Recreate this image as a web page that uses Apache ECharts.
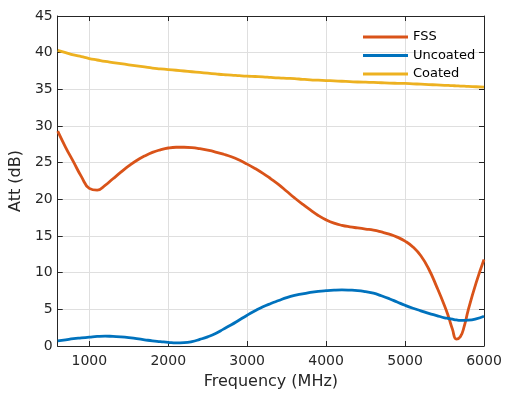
<!DOCTYPE html>
<html>
<head>
<meta charset="utf-8">
<script src="https://cdn.jsdelivr.net/npm/echarts@6/dist/echarts.min.js"></script>
<style>
  html, body { margin: 0; padding: 0; background: #fff; }
  #chart { width: 507px; height: 395px; }
</style>
</head>
<body>
<div id="chart"></div>
<script>
// frequency samples (MHz)
const freq = [
  600, 700, 800, 900, 1000, 1100, 1200, 1300, 1400, 1500,
  1600, 1700, 1800, 1900, 2000, 2100, 2200, 2300, 2400, 2500,
  2600, 2700, 2800, 2900, 3000, 3100, 3200, 3300, 3400, 3500,
  3600, 3700, 3800, 3900, 4000, 4100, 4200, 4300, 4400, 4500,
  4600, 4700, 4800, 4900, 5000, 5100, 5200, 5300, 5400, 5500,
  5550, 5600, 5650, 5700, 5750, 5800, 5900, 6000]

const fss = [
  29.3, 27.1, 25.1, 23.1, 21.5, 21.25, 21.9, 22.8, 23.7, 24.55,
  25.3, 25.9, 26.4, 26.75, 27.0, 27.1, 27.1, 27.05, 26.9, 26.7,
  26.45, 26.15, 25.8, 25.35, 24.8, 24.2, 23.55, 22.8, 22.0, 21.1,
  20.2, 19.35, 18.55, 17.8, 17.2, 16.75, 16.45, 16.25, 16.1, 15.95,
  15.8, 15.55, 15.25, 14.85, 14.3, 13.5, 12.3, 10.5, 8.1, 5.5,
  4.0, 2.3, 0.95, 1.25, 2.7, 4.9, 8.6, 11.8]

const uncoated = [
  0.7, 0.85, 1.0, 1.1, 1.2, 1.3, 1.35, 1.3, 1.25, 1.15,
  1.0, 0.85, 0.7, 0.6, 0.5, 0.42, 0.45, 0.6, 0.9, 1.25,
  1.7, 2.3, 2.9, 3.55, 4.2, 4.8, 5.35, 5.8, 6.2, 6.6,
  6.9, 7.1, 7.3, 7.45, 7.55, 7.62, 7.65, 7.62, 7.55, 7.4,
  7.2, 6.85, 6.45, 6.0, 5.55, 5.15, 4.8, 4.45, 4.15, 3.85,
  3.75, 3.65, 3.55, 3.5, 3.5, 3.52, 3.7, 4.05]

const coated = [
  40.3, 40.0, 39.7, 39.45, 39.2, 39.0, 38.8, 38.65, 38.5, 38.35,
  38.2, 38.05, 37.9, 37.8, 37.7, 37.6, 37.5, 37.4, 37.3, 37.2,
  37.1, 37.0, 36.95, 36.87, 36.8, 36.75, 36.7, 36.62, 36.55, 36.5,
  36.45, 36.37, 36.3, 36.25, 36.2, 36.15, 36.1, 36.05, 36.0, 35.97,
  35.95, 35.9, 35.85, 35.82, 35.8, 35.75, 35.7, 35.65, 35.6, 35.55,
  35.53, 35.5, 35.48, 35.45, 35.43, 35.4, 35.35, 35.3]

const xTicks = [1000, 2000, 3000, 4000, 5000, 6000]

const axisColor = '#262626'
const gridColor = '#dfdfdf'
const font = 'DejaVu Sans'

const pairs = (ys) => freq.map((f, i) => [f, ys[i]])

const chart = echarts.init(document.getElementById('chart'))

const lineSeries = (name, color, ys) => ({
  name: name,
  type: 'line',
  data: pairs(ys),
  smooth: 0.5,
  showSymbol: false,
  symbol: 'none',
  lineStyle: { color: color, width: 2.8 },
  itemStyle: { color: color }
})

chart.setOption({
  animation: false,
  textStyle: { fontFamily: font },
  grid: { left: 57, right: 23, top: 16, bottom: 48 },
  legend: {
    orient: 'vertical',
    left: 358,
    top: 25,
    icon: 'rect',
    itemWidth: 45,
    itemHeight: 3,
    itemGap: 4.5,
    textStyle: { fontSize: 13, color: '#000', fontFamily: font, lineHeight: 14 },
    data: ['FSS', 'Uncoated', 'Coated']
  },
  xAxis: [
    {
      type: 'value',
      min: 600,
      max: 6000,
      name: 'Frequency (MHz)',
      nameLocation: 'middle',
      nameGap: 28,
      nameTextStyle: { fontSize: 16, color: axisColor },
      axisLine: { show: true, lineStyle: { color: axisColor, width: 1 } },
      axisTick: { show: true, inside: true, length: 5, customValues: xTicks, lineStyle: { color: axisColor } },
      axisLabel: { fontSize: 14, color: axisColor, margin: 8, customValues: xTicks, formatter: (v) => String(v) },
      splitLine: { show: true, lineStyle: { color: gridColor } }
    },
    {
      type: 'value',
      position: 'top',
      min: 600,
      max: 6000,
      axisLine: { show: true, onZero: false, lineStyle: { color: axisColor, width: 1 } },
      axisTick: { show: true, inside: true, length: 5, customValues: xTicks, lineStyle: { color: axisColor } },
      axisLabel: { show: false },
      splitLine: { show: false }
    }
  ],
  yAxis: [
    {
      type: 'value',
      min: 0,
      max: 45,
      interval: 5,
      name: 'Att (dB)',
      nameLocation: 'middle',
      nameGap: 29,
      nameTextStyle: { fontSize: 16, color: axisColor },
      axisLine: { show: true, lineStyle: { color: axisColor, width: 1 } },
      axisTick: { show: true, inside: true, length: 5, lineStyle: { color: axisColor } },
      axisLabel: { fontSize: 14, color: axisColor, margin: 5 },
      splitLine: { show: true, lineStyle: { color: gridColor } }
    },
    {
      type: 'value',
      position: 'right',
      min: 0,
      max: 45,
      interval: 5,
      axisLine: { show: true, onZero: false, lineStyle: { color: axisColor, width: 1 } },
      axisTick: { show: true, inside: true, length: 5, lineStyle: { color: axisColor } },
      axisLabel: { show: false },
      splitLine: { show: false }
    }
  ],
  series: [
    lineSeries('FSS', '#D95319', fss),
    lineSeries('Uncoated', '#0072BD', uncoated),
    lineSeries('Coated', '#EDB120', coated)
  ]
})
</script>
</body>
</html>
